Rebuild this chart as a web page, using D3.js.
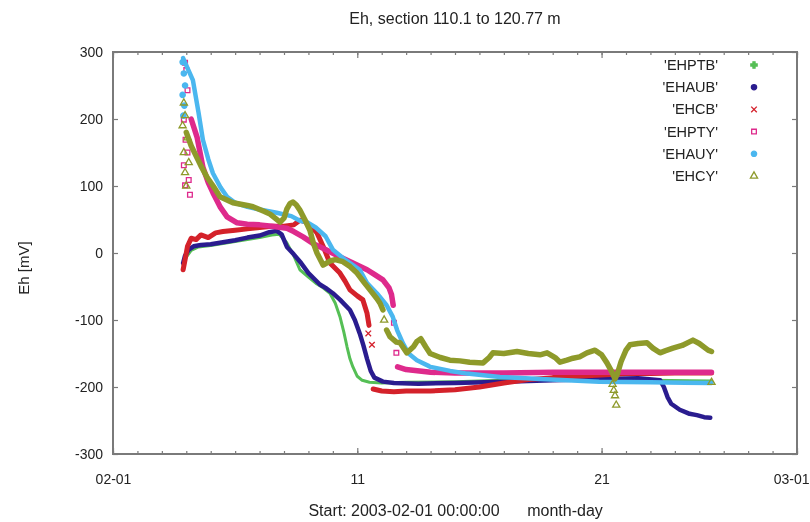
<!DOCTYPE html>
<html>
<head>
<meta charset="utf-8">
<script src="https://cdn.jsdelivr.net/npm/d3@7"></script>
<style>
  html, body { margin: 0; padding: 0; background: #fff; }
  svg { display: block; }
  text { font-family: "Liberation Sans", Arial, sans-serif; fill: #222; }
</style>
</head>
<body>
<svg id="chart" width="810" height="522"></svg>
<script>
// Eh records, section 110.1 to 120.77 m. Time in days after 2003-02-01 00:00, Eh in mV.
const xTickDays = [0, 10, 20, 28];
const xTickLabels = ["02-01", "11", "21", "03-01"];
const yTicks = [-300, -200, -100, 0, 100, 200, 300];
const seriesNames = ["'EHPTB'", "'EHAUB'", "'EHCB'", "'EHPTY'", "'EHAUY'", "'EHCY'"];

// null marks a gap in the record
const ehptb = [[2.87,-18],[3.0,-6],[3.2,4],[3.5,9],[4.0,11],[4.5,14],[5.0,17],[5.5,20],[6.0,23],[6.5,27],[6.8,28],
  [7.1,16],[7.4,-4],[7.65,-25],[8.0,-36],[8.3,-45],[8.6,-52],[8.88,-60],[9.1,-75],[9.29,-95],[9.45,-118],
  [9.58,-140],[9.7,-158],[9.82,-170],[10.0,-184],[10.2,-190],[10.5,-193],[11,-194],[12,-193],[14,-192],
  [16,-190],[18,-189],[20,-189],[22,-190],[24.5,-191]];

const ehaub = [[2.87,-15],[2.95,-4],[3.1,5],[3.3,10],[3.6,12],[4.0,13],[4.5,16],[5.0,19],[5.5,23],[6.0,26],
  [6.4,31],[6.7,33],[6.9,28],[7.12,9],[7.4,-2],[7.7,-15],[8.0,-30],[8.47,-47],[8.7,-52],[9.0,-60],[9.3,-70],
  [9.7,-85],[9.9,-100],[10.1,-120],[10.25,-138],[10.4,-158],[10.55,-176],[10.7,-186],[11.05,-192],[11.5,-194],
  [12.5,-195],[14,-194],[16,-192],[18,-190],[20,-188],[21.5,-187],[22.4,-190],[22.55,-200],[22.7,-215],
  [22.85,-225],[23.2,-234],[23.6,-240],[23.9,-242],[24.2,-245],[24.45,-246]];

const ehcb = [[2.87,-25],[2.95,-10],[3.05,10],[3.2,22],[3.4,20],[3.6,27],[3.9,23],[4.2,30],[4.5,32],[5.0,34],
  [5.5,36],[6.0,38],[6.5,40],[7.0,40],[7.4,42],[7.65,49],[7.9,46],[8.1,40],[8.35,30],[8.6,10],[8.88,-15],
  [9.29,-30],[9.5,-42],[9.7,-55],[10.0,-64],[10.23,-70],[10.4,-90],[10.48,-108],[10.55,null],[10.65,-203],
  [11,-206],[11.5,-207],[12,-206],[13,-206],[14,-204],[15,-200],[16,-194],[17,-189],[18,-186],[19,-184],
  [20,-182],[21,-180],[22,-180],[23,-179],[24,-179],[24.5,-179]];
const ehcbScatter = [[10.45,-120],[10.6,-137]];

const ehpty = [[3.2,200],[3.44,173],[3.68,128],[3.9,105],[4.09,90],[4.4,68],[4.67,54],[5.08,45],[5.5,43],
  [6.0,42],[6.5,40],[7.12,37],[7.4,32],[7.78,24],[8.2,14],[8.76,4],[9.3,-6],[9.82,-15],[10.4,-25],[10.7,-32],
  [11.05,-40],[11.3,-52],[11.4,-62],[11.47,-78],[11.55,null],[11.65,-170],[12,-174],[13,-178],[14,-179],
  [16,-179],[18,-178],[20,-178],[22,-178],[24.5,-178]];
const ehptyScatter = [[2.95,284],[3.0,273],[3.05,243],[2.9,199],[2.97,169],[3.05,150],[2.9,131],[3.1,109],
  [2.95,101],[3.15,87],[11.5,-104],[11.6,-149]];

const ehauy = [[2.87,291],[3.0,280],[3.27,258],[3.5,210],[3.68,169],[3.9,140],[4.09,119],[4.4,98],[4.67,84],
  [5.0,75],[5.5,69],[6.0,65],[6.7,60],[7.3,55],[7.65,48],[7.94,46],[8.3,38],[8.7,25],[9.0,5],[9.5,-10],
  [10.1,-25],[10.4,-45],[10.8,-60],[11.2,-78],[11.45,-95],[11.63,-115],[11.87,-135],[12.1,-150],[12.44,-160],
  [13.0,-170],[13.8,-176],[14.5,-180],[15.84,-185],[17.5,-188],[19.9,-192],[22,-193],[24.5,-194]];
const ehauyScatter = [[2.85,285],[2.9,268],[2.95,250],[2.85,236],[2.92,220],[2.88,205]];

const ehcy = [[3.0,180],[3.2,160],[3.4,145],[3.6,130],[3.85,113],[4.1,100],[4.38,84],[4.91,75],[5.5,71],
  [5.73,69],[6.2,62],[6.43,58],[6.84,46],[7.0,52],[7.12,66],[7.25,74],[7.37,76],[7.5,72],[7.65,64],[7.85,50],
  [8.06,34],[8.2,15],[8.35,0],[8.6,-18],[8.88,-12],[9.1,-10],[9.41,-13],[9.7,-20],[9.99,-30],[10.3,-45],
  [10.52,-55],[10.8,-68],[10.93,-75],[11.05,-85],[11.12,null],[11.2,-115],[11.34,-125],[11.6,-133],
  [11.75,-134],[12.03,-149],[12.3,-140],[12.44,-132],[12.6,-128],[12.8,-140],[12.98,-150],[13.4,-156],
  [13.79,-160],[14.2,-161],[14.6,-163],[15.15,-164],[15.4,-156],[15.55,-149],[16.0,-150],[16.54,-147],
  [17.0,-150],[17.48,-152],[17.77,-149],[18.1,-156],[18.3,-163],[18.58,-160],[18.83,-157],[19.1,-155],
  [19.4,-149],[19.73,-145],[20.0,-152],[20.22,-164],[20.4,-176],[20.55,-188],[20.65,-180],[20.8,-162],
  [21.0,-145],[21.16,-137],[21.5,-135],[21.86,-134],[22.1,-142],[22.39,-149],[22.6,-146],[22.92,-142],
  [23.3,-138],[23.74,-130],[24.0,-135],[24.36,-145],[24.5,-147]];
const ehcyScatter = [[2.9,224],[2.95,205],[2.85,190],[3.05,172],[2.9,150],[3.1,135],[2.95,120],[3.0,100],
  [11.1,-100],[20.45,-196],[20.5,-205],[20.55,-213],[20.6,-227],[24.5,-193]];

const colors = ["#55bf55", "#2b1f8f", "#d4202c", "#de2a8c", "#4bb7ef", "#8e9a2b"];
const trailWidths = [3, 4.5, 5, 5.5, 4.5, 5.5];
const symbols = [d3.symbolCross, d3.symbolCircle, d3.symbolTimes, d3.symbolSquare, d3.symbolCircle, d3.symbolTriangle];
const traces = [ehptb, ehaub, ehcb, ehpty, ehauy, ehcy];
const scatters = [[], [], ehcbScatter, ehptyScatter, ehauyScatter, ehcyScatter];

const svg = d3.select("#chart");
const m = { left: 113, right: 797, top: 52, bottom: 454 };

const defs = svg.append("defs");
defs.append("filter").attr("id", "soft")
  .append("feGaussianBlur").attr("stdDeviation", 0.5);

const root = svg.append("g").attr("filter", "url(#soft)");

const x = d3.scaleLinear().domain([0, 28]).range([m.left, m.right]);
const y = d3.scaleLinear().domain([-300, 300]).range([m.bottom, m.top]);

const openSymbol = s => s === d3.symbolSquare || s === d3.symbolTriangle;

// data: dense point records drawn as thick trails, isolated readings as symbols
const line = d3.line().defined(d => d[1] !== null).x(d => x(d[0])).y(d => y(d[1]));
const plot = root.append("g");
traces.forEach((tr, i) => {
  const g = plot.append("g");
  g.append("path").datum(tr).attr("d", line)
    .attr("fill", "none").attr("stroke", colors[i]).attr("stroke-width", trailWidths[i])
    .attr("stroke-linejoin", "round").attr("stroke-linecap", "round");
  const sym = d3.symbol().type(symbols[i]).size(22);
  g.selectAll("path.pt").data(scatters[i]).join("path").attr("class", "pt")
    .attr("transform", d => `translate(${x(d[0])},${y(d[1])})`)
    .attr("d", sym)
    .attr("fill", openSymbol(symbols[i]) ? "none" : colors[i])
    .attr("stroke", colors[i]).attr("stroke-width", 1.3);
});

// frame and axes
const frame = root.append("g");
const axisColor = "#7a7a7a";
function styleAxis(g) {
  g.select(".domain").remove();
  g.selectAll(".tick line").attr("stroke", axisColor).attr("stroke-width", 1.2);
  g.selectAll(".tick text").attr("font-size", 14).attr("fill", "#222")
    .attr("font-family", "'Liberation Sans', Arial, sans-serif");
}
// minor day ticks, bottom and top
frame.append("g").attr("transform", `translate(0,${m.bottom})`)
  .call(d3.axisBottom(x).tickValues(d3.range(0, 29)).tickSize(-3).tickFormat(""))
  .call(styleAxis);
frame.append("g").attr("transform", `translate(0,${m.top})`)
  .call(d3.axisTop(x).tickValues(d3.range(0, 29)).tickSize(-3).tickFormat(""))
  .call(styleAxis);
// major x ticks with labels
const xMajor = frame.append("g").attr("transform", `translate(0,${m.bottom})`)
  .call(d3.axisBottom(x).tickValues(xTickDays).tickSize(-6).tickPadding(20)
    .tickFormat((d, i) => xTickLabels[i]))
  .call(styleAxis);
// last date label sits at the right edge of the page
xMajor.selectAll(".tick text").filter(d => d === 28)
  .attr("text-anchor", "end").attr("x", 12);
frame.append("g").attr("transform", `translate(0,${m.top})`)
  .call(d3.axisTop(x).tickValues(xTickDays).tickSize(-6).tickFormat(""))
  .call(styleAxis);
// y ticks left with labels, right mirrored
frame.append("g").attr("transform", `translate(${m.left},0)`)
  .call(d3.axisLeft(y).tickValues(yTicks).tickSize(-5).tickPadding(10).tickFormat(d => String(d)))
  .call(styleAxis);
frame.append("g").attr("transform", `translate(${m.right},0)`)
  .call(d3.axisRight(y).tickValues(yTicks).tickSize(-5).tickFormat(""))
  .call(styleAxis);

frame.append("rect")
  .attr("x", m.left).attr("y", m.top)
  .attr("width", m.right - m.left).attr("height", m.bottom - m.top)
  .attr("fill", "none").attr("stroke", axisColor).attr("stroke-width", 2);

// legend
const legend = root.append("g");
seriesNames.forEach((name, i) => {
  const ly = 65 + i * 22.2;
  legend.append("text").attr("x", 718).attr("y", ly).attr("dy", "0.35em")
    .attr("text-anchor", "end").attr("font-size", 14.5).text(name);
  const sym = d3.symbol().type(symbols[i]).size(22);
  legend.append("path").attr("transform", `translate(754,${ly})`).attr("d", sym)
    .attr("fill", openSymbol(symbols[i]) ? "none" : colors[i])
    .attr("stroke", colors[i]).attr("stroke-width", 1.3);
});

// titles
root.append("text").attr("x", (m.left + m.right) / 2).attr("y", 24)
  .attr("text-anchor", "middle").attr("font-size", 16)
  .text("Eh, section 110.1 to 120.77 m");
root.append("text").attr("transform", "translate(29,268) rotate(-90)")
  .attr("text-anchor", "middle").attr("font-size", 15)
  .text("Eh  [mV]");
root.append("text").attr("x", 404).attr("y", 516)
  .attr("text-anchor", "middle").attr("font-size", 16)
  .text("Start: 2003-02-01 00:00:00");
root.append("text").attr("x", 565).attr("y", 516)
  .attr("text-anchor", "middle").attr("font-size", 16)
  .text("month-day");
</script>
</body>
</html>
